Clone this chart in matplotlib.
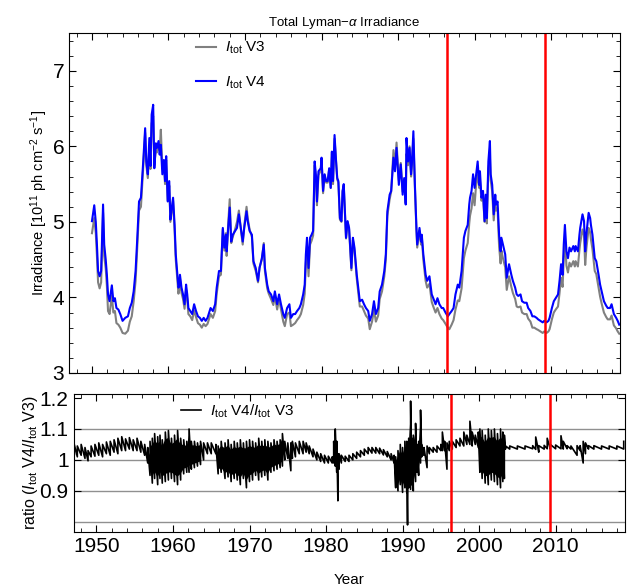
import numpy as np
import matplotlib
matplotlib.use("Agg")
import matplotlib.pyplot as plt
from matplotlib.ticker import MultipleLocator, FuncFormatter

plt.rcParams['font.family'] = ['Liberation Sans', 'DejaVu Sans']
plt.rcParams['mathtext.fontset'] = 'custom'
plt.rcParams['mathtext.rm'] = 'Liberation Sans'
plt.rcParams['mathtext.it'] = 'Liberation Sans:italic'

# ---- data ----
years = [
    1950.0, 1950.3, 1950.5, 1950.65, 1950.8, 1951.0, 1951.2, 1951.45, 1951.6, 1951.8,
    1951.95, 1952.1, 1952.3, 1952.6, 1952.8, 1953.0, 1953.2, 1953.45, 1953.7, 1954.0,
    1954.35, 1954.7, 1954.95, 1955.2, 1955.45, 1955.7, 1955.9, 1956.15, 1956.4, 1956.7,
    1956.95, 1957.1, 1957.3, 1957.5, 1957.65, 1957.8, 1958.0, 1958.15, 1958.35, 1958.5,
    1958.7, 1958.85, 1959.0, 1959.2, 1959.4, 1959.55, 1959.7, 1959.9, 1960.1, 1960.25,
    1960.4, 1960.6, 1960.8, 1960.95, 1961.3, 1961.4, 1961.5, 1961.7, 1961.9, 1962.1,
    1962.3, 1962.45, 1962.6, 1962.85, 1963.1, 1963.35, 1963.6, 1963.85, 1964.1, 1964.35,
    1964.6, 1964.85, 1965.1, 1965.5, 1965.8, 1966.1, 1966.3, 1966.6, 1966.85, 1967.1,
    1967.3, 1967.5, 1967.6, 1967.8, 1968.0, 1968.2, 1968.4, 1968.7, 1968.95, 1969.2,
    1969.5, 1969.7, 1969.9, 1970.2, 1970.35, 1970.6, 1970.9, 1971.1, 1971.4, 1971.7,
    1971.9, 1972.2, 1972.45, 1972.6, 1972.9, 1973.1, 1973.4, 1973.7, 1973.9, 1974.2,
    1974.45, 1974.7, 1975.0, 1975.2, 1975.5, 1975.8, 1976.0, 1976.3, 1976.55, 1976.8,
    1977.1, 1977.3, 1977.6, 1977.8, 1977.95, 1978.1, 1978.3, 1978.5, 1978.7, 1978.9,
    1979.1, 1979.3, 1979.4, 1979.6, 1979.9, 1980.0, 1980.2, 1980.4, 1980.6, 1980.8,
    1981.0, 1981.2, 1981.35, 1981.5, 1981.7, 1981.9, 1982.05, 1982.2, 1982.4, 1982.6,
    1982.75, 1982.9, 1983.2, 1983.4, 1983.6, 1983.9, 1984.1, 1984.3, 1984.6, 1984.85,
    1985.0, 1985.3, 1985.55, 1985.8, 1986.1, 1986.3, 1986.6, 1986.85, 1987.1, 1987.4,
    1987.6, 1987.9, 1988.2, 1988.4, 1988.6, 1988.9, 1989.1, 1989.4, 1989.6, 1989.8,
    1990.1, 1990.35, 1990.6, 1990.8, 1991.0, 1991.1, 1991.3, 1991.5, 1991.7, 1991.8,
    1992.0, 1992.2, 1992.4, 1992.5, 1992.8, 1993.0, 1993.1, 1993.3, 1993.6, 1993.8,
    1994.1, 1994.4, 1994.6, 1994.9, 1995.15, 1995.4, 1995.7, 1995.9, 1996.2, 1996.5,
    1996.7, 1997.0, 1997.25, 1997.5, 1997.8, 1998.0, 1998.3, 1998.6, 1998.8, 1999.1,
    1999.3, 1999.4, 1999.6, 1999.8, 2000.0, 2000.2, 2000.4, 2000.6, 2000.7, 2000.9,
    2001.1, 2001.3, 2001.45, 2001.6, 2001.8, 2002.0, 2002.1, 2002.3, 2002.5, 2002.7,
    2002.8, 2003.0, 2003.2, 2003.4, 2003.5, 2003.7, 2004.0, 2004.2, 2004.5, 2004.8,
    2005.0, 2005.3, 2005.5, 2005.7, 2006.0, 2006.2, 2006.5, 2006.8, 2007.0, 2007.3,
    2007.55, 2007.8, 2008.1, 2008.3, 2008.6, 2008.9, 2009.1, 2009.4, 2009.65, 2009.8,
    2010.1, 2010.35, 2010.6, 2010.9, 2011.1, 2011.3, 2011.5, 2011.65, 2011.8, 2012.0,
    2012.2, 2012.4, 2012.6, 2012.9, 2013.1, 2013.2, 2013.5, 2013.7, 2013.8, 2014.1,
    2014.3, 2014.45, 2014.6, 2014.9, 2015.1, 2015.2, 2015.4, 2015.7, 2015.9, 2016.2,
    2016.4, 2016.6, 2016.9, 2017.2, 2017.4, 2017.7, 2017.9, 2018.2, 2018.5, 2018.7,
    2018.9,
]

itot_v4 = [
    5.01, 5.22, 5.00, 4.70, 4.35, 4.28, 4.35, 5.23, 4.70, 4.50,
    4.30, 4.04, 3.95, 4.16, 3.95, 3.99, 3.86, 3.84, 3.78, 3.69,
    3.73, 3.75, 3.86, 3.93, 4.08, 4.35, 4.74, 5.27, 5.32, 5.80,
    6.24, 5.80, 5.63, 6.11, 5.74, 6.42, 6.55, 5.71, 6.04, 5.98,
    6.07, 5.89, 6.02, 5.63, 5.82, 5.54, 5.87, 5.27, 5.54, 5.03,
    5.16, 5.32, 4.96, 4.57, 4.13, 4.15, 4.30, 4.13, 4.04, 3.91,
    4.17, 4.04, 3.86, 3.82, 3.78, 3.91, 3.82, 3.75, 3.73, 3.69,
    3.73, 3.69, 3.73, 3.86, 3.82, 3.91, 4.13, 4.35, 4.35, 4.92,
    4.66, 4.83, 4.61, 4.92, 5.19, 4.74, 4.83, 4.88, 4.92, 5.10,
    4.88, 4.74, 4.92, 5.14, 5.01, 4.88, 4.83, 4.48, 4.39, 4.22,
    4.39, 4.52, 4.70, 4.39, 4.17, 4.08, 4.04, 3.95, 4.08, 3.91,
    4.04, 3.91, 3.78, 3.73, 3.86, 3.91, 3.73, 3.78, 3.78, 3.82,
    3.86, 3.91, 4.04, 4.17, 4.57, 4.79, 4.39, 4.79, 4.83, 4.88,
    5.80, 5.58, 5.27, 5.67, 5.71, 5.85, 5.41, 5.63, 5.54, 5.54,
    5.71, 5.45, 5.93, 5.54, 6.15, 5.80, 5.58, 5.54, 5.05, 5.01,
    5.41, 5.50, 4.79, 5.01, 4.92, 4.39, 4.79, 4.66, 4.30, 4.08,
    3.95, 3.97, 3.91, 3.86, 3.82, 3.69, 3.78, 3.95, 3.78, 3.86,
    4.08, 4.17, 4.35, 4.57, 5.14, 5.36, 5.41, 5.85, 5.67, 5.98,
    5.49, 5.76, 5.36, 5.58, 5.23, 6.11, 5.80, 5.98, 5.63, 5.76,
    6.20, 5.49, 4.92, 4.70, 4.92, 4.74, 4.83, 4.57, 4.30, 4.22,
    4.28, 4.04, 3.99, 3.91, 3.99, 3.91, 3.86, 3.86, 3.80, 3.75,
    3.78, 3.82, 3.86, 4.04, 4.17, 4.13, 4.35, 4.79, 4.88, 4.96,
    5.23, 5.32, 5.41, 5.63, 5.45, 5.63, 5.80, 5.49, 5.67, 5.32,
    5.41, 5.01, 5.36, 5.05, 5.80, 6.07, 5.63, 5.49, 5.10, 5.36,
    5.23, 5.27, 4.83, 4.61, 4.79, 4.70, 4.57, 4.26, 4.44, 4.30,
    4.22, 4.13, 4.04, 4.02, 4.04, 3.95, 3.93, 3.93, 3.86, 3.82,
    3.75, 3.75, 3.73, 3.71, 3.69, 3.67, 3.69, 3.67, 3.69, 3.73,
    3.86, 3.95, 3.99, 4.04, 4.22, 4.44, 4.30, 4.70, 4.96, 4.61,
    4.52, 4.66, 4.61, 4.68, 4.61, 4.68, 4.61, 4.83, 4.92, 5.10,
    5.01, 4.61, 4.83, 5.12, 5.05, 4.96, 4.83, 4.52, 4.48, 4.30,
    4.17, 4.08, 3.95, 3.89, 3.86, 3.86, 3.91, 3.78, 3.73, 3.69,
    3.64,
]

itot_v3 = [
    4.85, 5.05, 4.85, 4.55, 4.20, 4.12, 4.20, 5.12, 4.55, 4.38,
    4.15, 3.82, 3.78, 4.02, 3.80, 3.82, 3.66, 3.64, 3.60, 3.53,
    3.52, 3.56, 3.68, 3.75, 3.95, 4.22, 4.62, 5.15, 5.20, 5.72,
    6.18, 5.75, 5.58, 5.98, 5.70, 6.30, 6.40, 5.75, 5.95, 5.92,
    6.00, 5.95, 6.22, 5.70, 5.78, 5.50, 5.82, 5.28, 5.48, 5.00,
    5.12, 5.28, 4.88, 4.50, 4.05, 4.10, 4.25, 4.06, 3.98, 3.85,
    4.10, 3.98, 3.78, 3.75, 3.70, 3.83, 3.74, 3.66, 3.64, 3.60,
    3.65, 3.62, 3.65, 3.78, 3.73, 3.82, 4.05, 4.28, 4.30, 4.90,
    4.62, 4.85, 4.55, 4.97, 5.30, 4.72, 4.80, 4.90, 5.00, 5.15,
    4.86, 4.70, 4.95, 5.20, 5.05, 4.90, 4.80, 4.45, 4.35, 4.20,
    4.40, 4.50, 4.72, 4.35, 4.12, 4.05, 3.98, 3.90, 4.02, 3.84,
    3.98, 3.84, 3.68, 3.62, 3.78, 3.80, 3.62, 3.64, 3.66, 3.70,
    3.74, 3.78, 3.90, 4.05, 4.45, 4.68, 4.28, 4.70, 4.75, 4.82,
    5.75, 5.52, 5.22, 5.62, 5.68, 5.82, 5.38, 5.62, 5.52, 5.52,
    5.70, 5.45, 5.90, 5.50, 6.10, 5.78, 5.56, 5.52, 5.03, 5.00,
    5.40, 5.48, 4.78, 5.00, 4.90, 4.36, 4.76, 4.62, 4.25, 4.02,
    3.88, 3.88, 3.82, 3.76, 3.72, 3.58, 3.68, 3.84, 3.68, 3.76,
    3.98, 4.08, 4.28, 4.50, 5.08, 5.30, 5.40, 5.95, 5.72, 6.05,
    5.55, 5.78, 5.40, 5.55, 5.25, 5.90, 5.75, 6.00, 5.60, 5.74,
    6.10, 5.45, 4.88, 4.66, 4.88, 4.70, 4.80, 4.50, 4.22, 4.13,
    4.18, 3.94, 3.88, 3.80, 3.86, 3.78, 3.72, 3.70, 3.65, 3.60,
    3.58, 3.64, 3.70, 3.84, 3.96, 3.95, 4.12, 4.52, 4.62, 4.72,
    4.98, 5.08, 5.18, 5.38, 5.22, 5.50, 5.62, 5.45, 5.55, 5.28,
    5.35, 5.00, 5.30, 4.98, 5.70, 5.85, 5.55, 5.40, 5.02, 5.28,
    5.15, 5.18, 4.68, 4.45, 4.62, 4.52, 4.40, 4.10, 4.28, 4.14,
    4.06, 3.98, 3.88, 3.87, 3.88, 3.80, 3.78, 3.78, 3.72, 3.68,
    3.60, 3.60, 3.58, 3.57, 3.55, 3.53, 3.55, 3.53, 3.55, 3.58,
    3.71, 3.80, 3.84, 3.88, 4.06, 4.26, 4.14, 4.52, 4.78, 4.42,
    4.33, 4.46, 4.41, 4.48, 4.41, 4.48, 4.41, 4.63, 4.72, 4.90,
    4.82, 4.43, 4.64, 4.92, 4.86, 4.77, 4.64, 4.35, 4.31, 4.13,
    4.01, 3.92, 3.80, 3.74, 3.71, 3.71, 3.76, 3.63, 3.59, 3.55,
    3.52,
]

# ratio V4/V3: lower and upper edge of the black trace
ratio_years = [
    1946.9, 1947.1, 1947.5, 1948.0, 1948.5, 1948.9, 1949.3, 1949.8, 1950.3, 1950.8,
    1951.3, 1951.8, 1952.3, 1952.8, 1953.3, 1953.8, 1954.3, 1954.8, 1955.3, 1955.8,
    1956.3, 1956.7, 1957.0, 1957.3, 1957.6, 1958.0, 1958.3, 1958.6, 1959.0, 1959.4,
    1959.8, 1960.2, 1960.6, 1961.0, 1961.4, 1961.8, 1962.1, 1962.4, 1962.8, 1963.2,
    1963.6, 1964.0, 1964.5, 1965.0, 1965.6, 1965.9, 1966.3, 1966.8, 1967.2, 1967.6,
    1968.0, 1968.4, 1968.8, 1969.2, 1969.6, 1970.0, 1970.4, 1970.8, 1971.2, 1971.6,
    1972.0, 1972.4, 1972.8, 1973.2, 1973.6, 1974.0, 1974.3, 1974.6, 1975.0, 1975.4,
    1975.6, 1976.0, 1976.5, 1977.0, 1977.4, 1977.8, 1978.3, 1978.8, 1979.3, 1979.8,
    1980.3, 1980.8, 1981.0, 1981.2, 1981.4, 1981.55, 1981.7, 1982.0, 1982.5, 1983.0,
    1983.5, 1984.0, 1984.5, 1985.0, 1985.5, 1986.0, 1986.5, 1987.0, 1987.5, 1988.0,
    1988.5, 1988.9, 1989.1, 1989.4, 1989.7, 1990.0, 1990.3, 1990.55, 1990.65, 1990.8,
    1991.05, 1991.2, 1991.4, 1991.7, 1991.9, 1992.1, 1992.35, 1992.5, 1992.8, 1993.2,
    1993.5, 1994.0, 1994.5, 1995.0, 1995.2, 1995.5, 1995.8, 1996.1, 1996.5, 1997.0,
    1997.5, 1998.0, 1998.4, 1998.8, 1999.1, 1999.5, 1999.9, 2000.1, 2000.4, 2000.8,
    2001.2, 2001.6, 2002.0, 2002.4, 2002.8, 2003.1, 2003.3, 2003.45, 2004.0, 2005.0,
    2006.0, 2007.0, 2007.4, 2007.8, 2008.5, 2008.9, 2009.3, 2010.0, 2010.7, 2011.0,
    2011.5, 2012.0, 2012.8, 2013.2, 2013.6, 2013.9, 2014.3, 2015.0, 2016.0, 2017.0,
    2018.0, 2018.9,
]
ratio_lo = [
    0.93, 1.015, 1.01, 1.015, 1.005, 0.997, 1.01, 1.012, 1.015, 1.01,
    1.02, 1.015, 1.025, 1.02, 1.03, 1.03, 1.035, 1.03, 1.03, 1.025,
    1.015, 0.99, 0.95, 0.925, 0.94, 0.92, 0.94, 0.925, 0.93, 0.935,
    0.94, 0.93, 0.92, 0.935, 0.955, 0.96, 0.96, 0.97, 0.975, 0.98,
    0.985, 1.0, 1.02, 1.02, 1.02, 0.955, 0.96, 0.94, 0.945, 0.93,
    0.94, 0.935, 0.92, 0.94, 0.91, 0.93, 0.935, 0.95, 0.935, 0.945,
    0.95, 0.935, 0.96, 0.965, 0.97, 0.975, 0.98, 1.0, 1.005, 0.965,
    1.005, 1.01, 1.02, 1.02, 1.025, 1.02, 1.01, 1.0, 0.995, 0.99,
    0.99, 0.99, 0.99, 0.98, 0.96, 0.868, 0.97, 0.99, 0.995, 0.995,
    1.0, 1.005, 1.01, 1.015, 1.02, 1.022, 1.022, 1.02, 1.016, 1.01,
    1.0, 0.99, 0.91, 0.90, 0.92, 0.895, 0.91, 0.895, 0.79, 0.91,
    0.905, 0.92, 0.90, 0.93, 0.96, 0.95, 0.99, 1.01, 1.015, 0.975,
    1.02, 1.025, 1.025, 1.03, 1.03, 1.03, 0.97, 1.03, 1.035, 1.04,
    1.045, 1.045, 1.05, 1.05, 1.045, 1.05, 1.04, 0.96, 0.94, 0.925,
    0.92, 0.935, 0.93, 0.92, 0.91, 0.93, 0.94, 1.035, 1.035, 1.035,
    1.035, 1.036, 1.034, 1.025, 1.035, 1.036, 1.035, 1.036, 1.036, 1.035,
    1.036, 1.035, 1.015, 1.03, 0.99, 1.02, 1.035, 1.035, 1.035, 1.035,
    1.035, 1.035,
]
ratio_hi = [
    1.14, 1.05, 1.045, 1.05, 1.04, 1.03, 1.045, 1.05, 1.055, 1.05,
    1.058, 1.06, 1.065, 1.07, 1.075, 1.068, 1.072, 1.065, 1.07, 1.06,
    1.05, 1.04, 1.06, 1.07, 1.085, 1.075, 1.08, 1.065, 1.09, 1.095,
    1.07, 1.08, 1.095, 1.07, 1.065, 1.06, 1.10, 1.06, 1.06, 1.055,
    1.06, 1.055, 1.055, 1.055, 1.05, 1.045, 1.06, 1.055, 1.065, 1.05,
    1.06, 1.055, 1.065, 1.055, 1.06, 1.065, 1.06, 1.055, 1.07, 1.06,
    1.065, 1.06, 1.055, 1.065, 1.06, 1.065, 1.085, 1.06, 1.055, 1.055,
    1.06, 1.055, 1.06, 1.06, 1.055, 1.045, 1.035, 1.025, 1.02, 1.015,
    1.012, 1.01, 1.06, 1.10, 1.06, 1.02, 1.02, 1.015, 1.012, 1.015,
    1.02, 1.025, 1.03, 1.035, 1.04, 1.04, 1.04, 1.038, 1.033, 1.027,
    1.02, 1.015, 1.01, 1.03, 1.05, 1.04, 1.06, 1.06, 1.03, 1.07,
    1.19, 1.07, 1.08, 1.118, 1.05, 1.06, 1.161, 1.05, 1.04, 1.045,
    1.04, 1.04, 1.045, 1.05, 1.09, 1.06, 1.055, 1.06, 1.06, 1.065,
    1.07, 1.09, 1.08, 1.125, 1.09, 1.08, 1.09, 1.10, 1.095, 1.08,
    1.10, 1.095, 1.10, 1.085, 1.10, 1.09, 1.08, 1.045, 1.045, 1.045,
    1.045, 1.046, 1.074, 1.046, 1.047, 1.07, 1.05, 1.048, 1.078, 1.06,
    1.046, 1.045, 1.046, 1.046, 1.06, 1.055, 1.046, 1.046, 1.045, 1.045,
    1.045, 1.06,
]

red_lines = [1996.35, 2009.25]

fig = plt.figure(figsize=(6.33, 5.88), dpi=100)
ax1 = fig.add_axes([69/633, 1-373/588, 551/633, 340/588])
ax2 = fig.add_axes([73.5/633, 1-532/588, 551/633, 138/588])

# top panel
ax1.plot(years, itot_v3, color='#808080', lw=1.5, label=r'$I_{\rm tot}$ V3')
ax1.plot(years, itot_v4, color='#0000ff', lw=1.5, label=r'$I_{\rm tot}$ V4')
for x in red_lines:
    ax1.axvline(x, color='#ff0000', lw=1.8)
ax1.set_xlim(1947, 2019)
ax1.set_ylim(3, 7.5)
ax1.xaxis.set_major_locator(MultipleLocator(10))
ax1.xaxis.set_minor_locator(MultipleLocator(2))
ax1.yaxis.set_major_locator(MultipleLocator(1))
ax1.yaxis.set_minor_locator(MultipleLocator(0.2))
ax1.tick_params(which='both', direction='in', top=True, right=True, labelbottom=False)
ax1.tick_params(which='major', length=5, labelsize=15)
ax1.tick_params(which='minor', length=3)
ax1.set_ylabel(r'Irradiance [10$^{11}$ ph cm$^{-2}$ s$^{-1}$]', fontsize=10.5, labelpad=2)
ax1.set_title(r'Total Lyman$-\alpha$ Irradiance', fontsize=9.5, pad=5)
ax1.legend(loc='upper left', bbox_to_anchor=(0.205, 1.02), frameon=False, fontsize=11,
           handlelength=1.3, labelspacing=1.2, handletextpad=0.6)

# bottom panel
for g in [0.8, 0.9, 1.0, 1.1]:
    ax2.axhline(g, color='#909090', lw=1.0, zorder=0)
lo = np.array(ratio_lo)
hi = np.array(ratio_hi)
mid = (lo + hi) / 2
half = (hi - lo) / 2
noisy = (hi - lo) > 0.07
# solid core of the noisy stretches
ax2.fill_between(ratio_years, mid - 0.7 * half, mid + 0.7 * half, where=noisy,
                 color='black', lw=0)
rx = np.repeat(ratio_years, 2)
ry = np.column_stack([lo, hi]).ravel()
ax2.plot(rx, ry, color='black', lw=1.2, label=r'$I_{\rm tot}$ V4/$I_{\rm tot}$ V3')
for x in red_lines:
    ax2.axvline(x, color='#ff0000', lw=1.8)
ax2.set_xlim(1947, 2019)
ax2.set_ylim(0.767, 1.213)
ax2.set_yticks([0.9, 1.0, 1.1, 1.2])
ax2.yaxis.set_major_formatter(FuncFormatter(lambda v, p: '%g' % round(v, 2)))
ax2.xaxis.set_major_locator(MultipleLocator(10))
ax2.xaxis.set_minor_locator(MultipleLocator(2))
ax2.tick_params(which='both', direction='in', top=True, right=True)
ax2.tick_params(which='major', length=5, labelsize=15)
ax2.tick_params(which='minor', length=3)
ax2.set_xlabel('Year', fontsize=11, labelpad=12)
ax2.set_ylabel(r'ratio ($I_{\rm tot}$ V4/$I_{\rm tot}$ V3)', fontsize=11.5, labelpad=0)
ax2.legend(loc='upper left', bbox_to_anchor=(0.17, 1.04), frameon=False, fontsize=11,
           handlelength=1.3, handletextpad=0.6)

fig.savefig('out.png', dpi=100)
